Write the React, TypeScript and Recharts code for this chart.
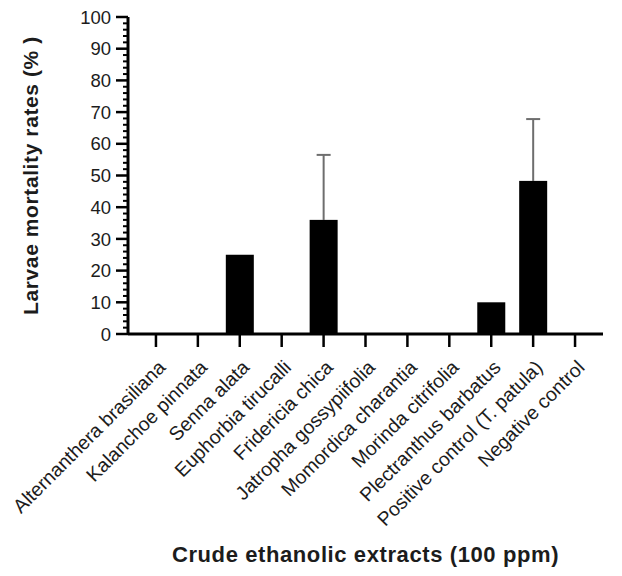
import { BarChart, Bar, XAxis, YAxis } from "recharts";

const extracts = [
  "Alternanthera brasiliana",
  "Kalanchoe pinnata",
  "Senna alata",
  "Euphorbia tirucalli",
  "Fridericia chica",
  "Jatropha gossypiifolia",
  "Momordica charantia",
  "Morinda citrifolia",
  "Plectranthus barbatus",
  "Positive control (T. patula)",
  "Negative control",
];
const mortality = [0, 0, 25, 0, 36, 0, 0, 0, 10, 48.3, 0];
const sdUpper = [0, 0, 0, 0, 20.5, 0, 0, 0, 0, 19.5, 0];

const yTicks = [
  0, 2, 4, 6, 8, 10, 12, 14, 16, 18, 20, 22, 24, 26, 28, 30, 32, 34, 36, 38,
  40, 42, 44, 46, 48, 50, 52, 54, 56, 58, 60, 62, 64, 66, 68, 70, 72, 74, 76,
  78, 80, 82, 84, 86, 88, 90, 92, 94, 96, 98, 100,
];

const FONT = "'Liberation Sans', Arial, sans-serif";
const TEXT = "#1c1c1c";

const data = extracts.map((name, i) => ({
  name,
  value: mortality[i],
  sd: sdUpper[i],
}));

// bar with an upper-only SD whisker, scaled from the bar's own pixel height
const BarWithSd = (props: any) => {
  const { x, y, width, height, payload } = props;
  if (!height || height <= 0) return null;
  const pxPerUnit = height / payload.value;
  const cx = x + width / 2;
  const top = y - payload.sd * pxPerUnit;
  return (
    <g>
      {payload.sd > 0 && (
        <g stroke="#6e6e6e" strokeWidth={2}>
          <line x1={cx} x2={cx} y1={y} y2={top} />
          <line x1={cx - 7} x2={cx + 7} y1={top} y2={top} />
        </g>
      )}
      <rect x={x} y={y} width={width} height={height} fill="#000" />
    </g>
  );
};

const YTick = ({ x, y, payload }: any) => {
  const major = payload.value % 10 === 0;
  return (
    <g>
      <line
        x1={x - (major ? 12 : 5)}
        x2={x}
        y1={y}
        y2={y}
        stroke="#000"
        strokeWidth={major ? 2.5 : 2}
      />
      {major && (
        <text
          x={x - 17}
          y={y}
          dy="0.36em"
          textAnchor="end"
          fontSize={18.5}
          fontFamily={FONT}
          fill={TEXT}
        >
          {payload.value}
        </text>
      )}
    </g>
  );
};

const XTick = ({ x, y, payload }: any) => (
  <g transform={`translate(${x + 1},${y + 10})`}>
    <text
      transform="rotate(-45)"
      textAnchor="end"
      dy="0.7em"
      fontSize={19.5}
      fontFamily={FONT}
      fill={TEXT}
    >
      {payload.value}
    </text>
  </g>
);

const YTitle = ({ viewBox }: any) => {
  const cx = 30;
  const cy = viewBox.y + viewBox.height / 2;
  return (
    <text
      x={cx}
      y={cy}
      transform={`rotate(-90, ${cx}, ${cy})`}
      textAnchor="middle"
      dominantBaseline="central"
      fontSize={21}
      fontWeight="bold"
      fontFamily={FONT}
      fill={TEXT}
      letterSpacing={0.6}
    >
      Larvae mortality rates (% )
    </text>
  );
};

export default function App() {
  return (
    <div style={{ position: "absolute", left: 0, top: 0, background: "#fff" }}>
      <BarChart
        width={622}
        height={576}
        data={data}
        margin={{ top: 17, right: 19, bottom: 0, left: 0 }}
      >
        <XAxis
          dataKey="name"
          interval={0}
          padding={{ left: 7, right: 7 }}
          height={242}
          tick={<XTick />}
          tickSize={13}
          tickMargin={2}
          tickLine={{ stroke: "#000", strokeWidth: 2.5 }}
          axisLine={{ stroke: "#000", strokeWidth: 3 }}
          label={{
            value: "Crude ethanolic extracts (100 ppm)",
            position: "insideBottom",
            offset: 14,
            fontSize: 22,
            fontWeight: "bold",
            fontFamily: FONT,
            fill: TEXT,
            letterSpacing: 0.6,
          }}
        />
        <YAxis
          width={128}
          domain={[0, 100]}
          ticks={yTicks}
          interval={0}
          tick={<YTick />}
          tickLine={false}
          tickSize={0}
          tickMargin={0}
          axisLine={{ stroke: "#000", strokeWidth: 3 }}
          label={<YTitle />}
        />
        <Bar
          dataKey="value"
          fill="#000"
          barSize={28}
          shape={<BarWithSd />}
          isAnimationActive={false}
        />
      </BarChart>
    </div>
  );
}
